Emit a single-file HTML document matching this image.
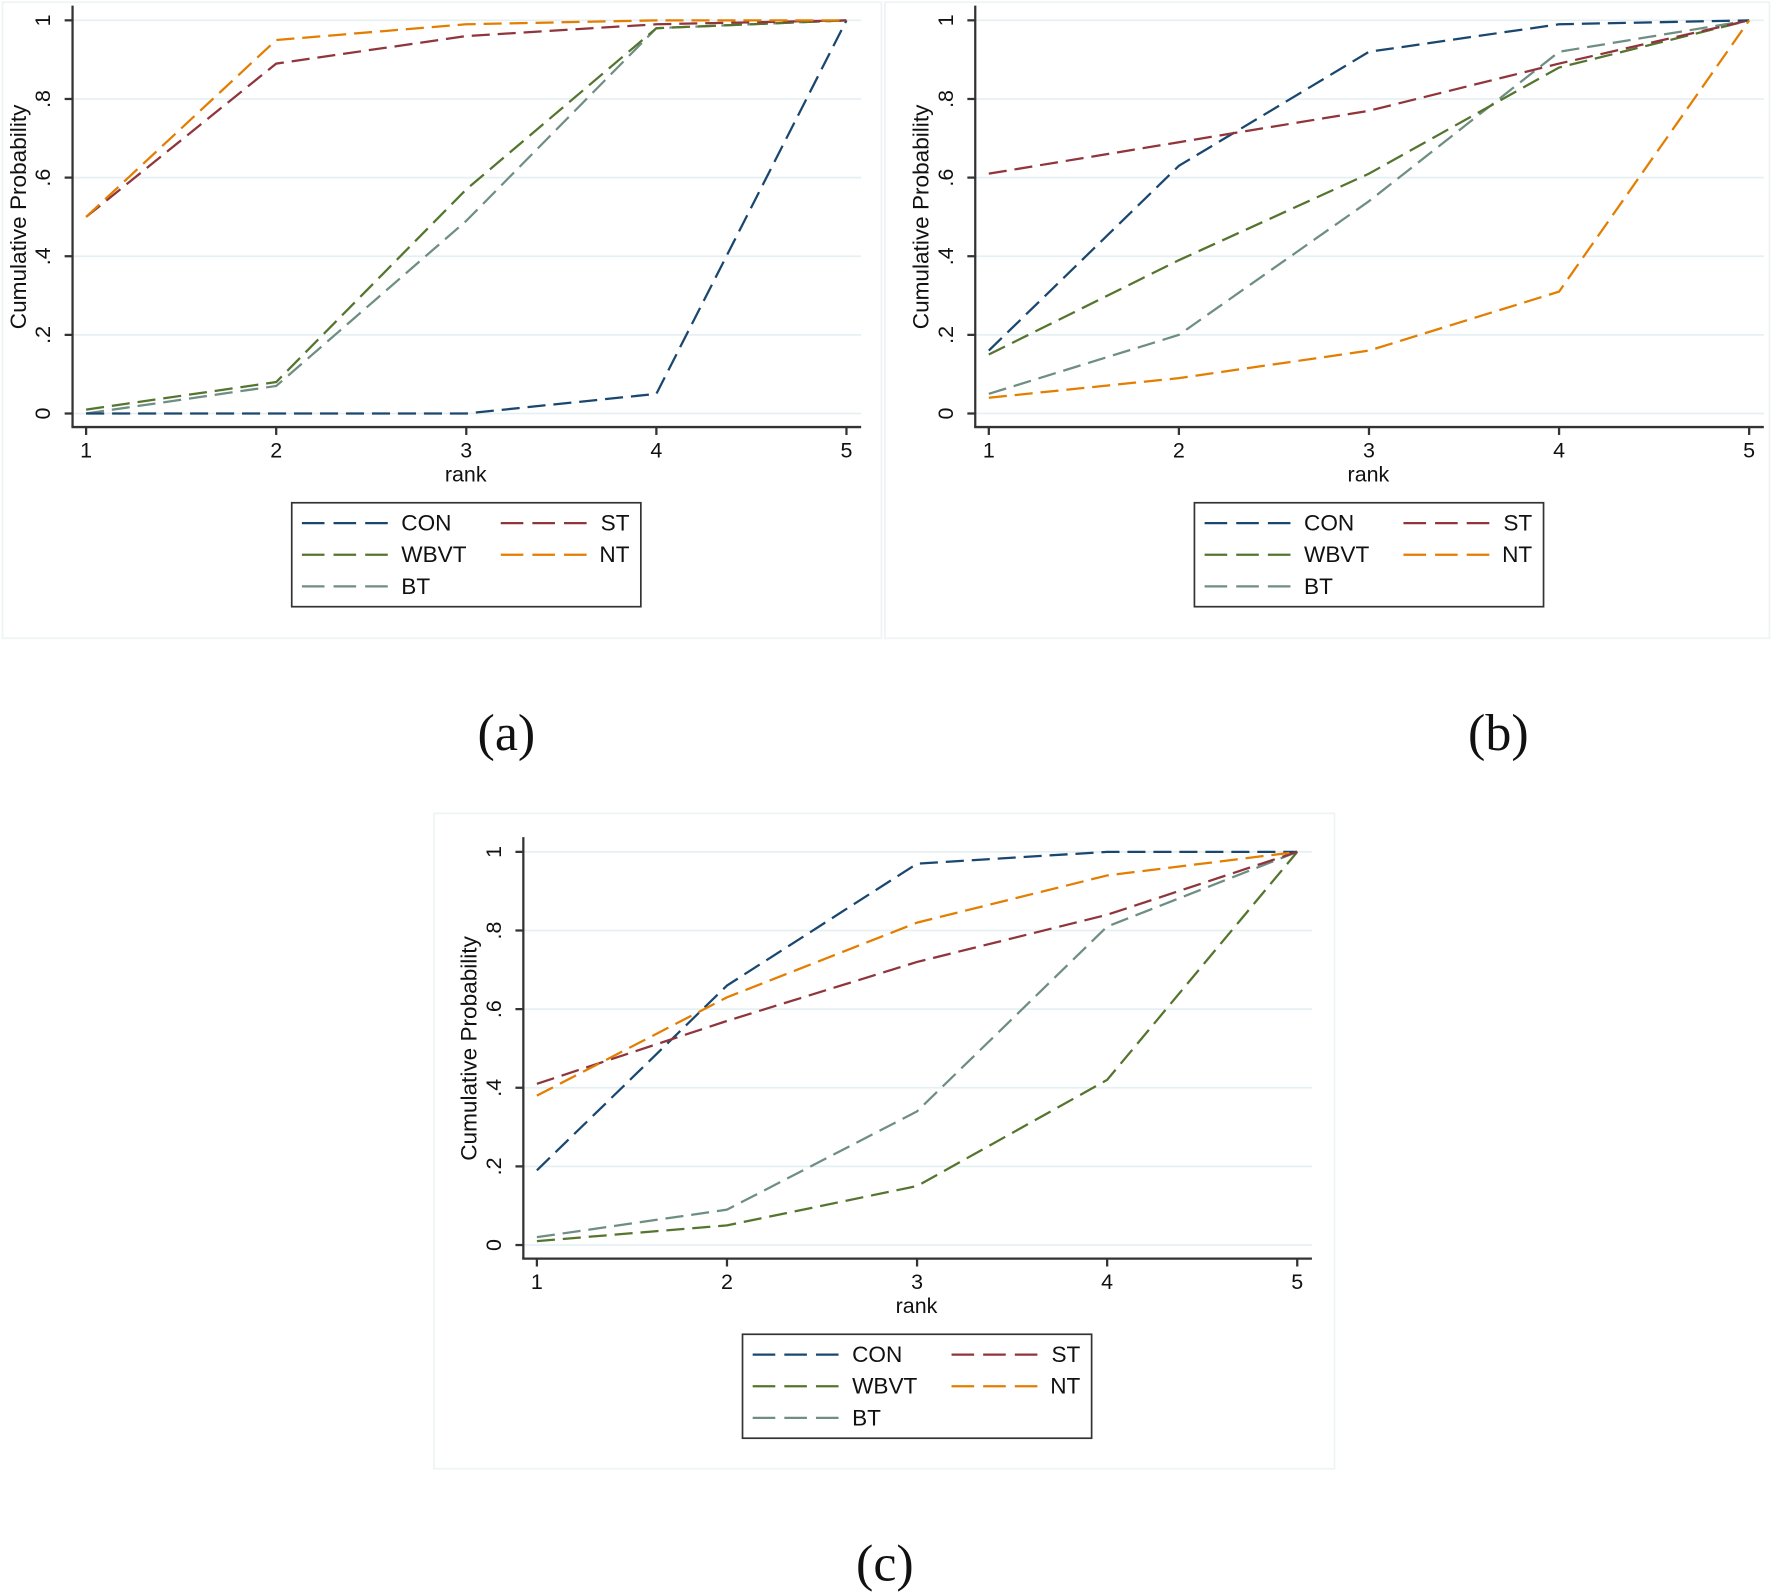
<!DOCTYPE html>
<html><head><meta charset="utf-8"><style>
html,body{margin:0;padding:0;background:#fff;}
svg{display:block;}
text{font-family:"Liberation Sans",sans-serif;fill:#111;}
.cap{font-family:"Liberation Serif",serif;}
</style></head><body>
<svg id="s" width="1772" height="1593" viewBox="0 0 1568 1410" xmlns="http://www.w3.org/2000/svg">
<rect width="1568" height="1410" fill="#fff"/>
</svg>
<script>
const s=document.getElementById('s');
const NS='http://www.w3.org/2000/svg';
function el(t,a,txt){const e=document.createElementNS(NS,t);for(const k in a)e.setAttribute(k,a[k]);if(txt!==undefined)e.textContent=txt;s.appendChild(e);return e;}
const C={CON:'#1a476f',ST:'#90353b',WBVT:'#55752f',NT:'#e37e00',BT:'#6e8e84'};
function panel(dx,dy,data,frame){
  el('rect',{x:frame[0],y:frame[1],width:frame[2]-frame[0],height:frame[3]-frame[1],fill:'#fff',stroke:'#eef3f4','stroke-width':1.5});
  const X=r=>dx+76+(r-1)*168.25, Y=v=>dy+366-v*348;
  for(let i=0;i<=5;i++){const y=Y(i*0.2);el('line',{x1:dx+64,x2:dx+762,y1:y,y2:y,stroke:'#e6f0f2','stroke-width':1.5});}
  el('line',{x1:dx+64,x2:dx+64,y1:dy+5,y2:dy+378,stroke:'#333','stroke-width':2});
  el('line',{x1:dx+63,x2:dx+762,y1:dy+378,y2:dy+378,stroke:'#333','stroke-width':2});
  const lab=['0','.2','.4','.6','.8','1'];
  for(let i=0;i<=5;i++){const y=Y(i*0.2);el('line',{x1:dx+57,x2:dx+64,y1:y,y2:y,stroke:'#333','stroke-width':2});
    el('text',{x:dx+38,y:y,'font-size':19,'text-anchor':'middle','dominant-baseline':'central',transform:`rotate(-90 ${dx+38} ${y})`},lab[i]);}
  for(let r=1;r<=5;r++){const x=X(r);el('line',{x1:x,x2:x,y1:dy+378,y2:dy+385,stroke:'#333','stroke-width':2});
    el('text',{x:x,y:dy+405,'font-size':19,'text-anchor':'middle'},String(r));}
  el('text',{x:dx+412,y:dy+426,'font-size':19,'text-anchor':'middle'},'rank');
  el('text',{x:dx+16,y:dy+192,'font-size':20,'text-anchor':'middle','dominant-baseline':'central',transform:`rotate(-90 ${dx+16} ${dy+192})`},'Cumulative Probability');
  for(const k of ['BT','WBVT','CON','ST','NT']){
    const pts=data[k].map((v,i)=>X(i+1)+','+Y(v)).join(' ');
    el('polyline',{points:pts,fill:'none',stroke:C[k],'stroke-width':2,'stroke-dasharray':'16 7'});
  }
  el('rect',{x:dx+258,y:dy+445,width:309,height:92,fill:'#fff',stroke:'#333','stroke-width':1.5});
  const L=[['CON',0,0],['ST',1,0],['WBVT',0,1],['NT',1,1],['BT',0,2]];
  for(const [k,c,r] of L){const y=dy+463+r*28;
    const lx=dx+(c?443:267);
    el('line',{x1:lx,x2:lx+76,y1:y,y2:y,stroke:C[k],'stroke-width':2,'stroke-dasharray':'20 8'});
    if(c) el('text',{x:dx+557,y:y,'font-size':20,'text-anchor':'end','dominant-baseline':'central'},k);
    else el('text',{x:dx+355,y:y,'font-size':20,'dominant-baseline':'central'},k);
  }
}
panel(0,0,{CON:[0,0,0,.05,1],ST:[.5,.89,.96,.99,1],WBVT:[.01,.08,.57,.98,1],NT:[.5,.95,.99,1,1],BT:[0,.07,.49,.98,1]},[2,2,780,565]);
panel(799,0,{CON:[.16,.63,.92,.99,1],ST:[.61,.69,.77,.89,1],WBVT:[.15,.39,.61,.88,1],NT:[.04,.09,.16,.31,1],BT:[.05,.20,.54,.92,1]},[783,2,1566,565]);
panel(399,736,{CON:[.19,.66,.97,1,1],ST:[.41,.57,.72,.84,1],WBVT:[.01,.05,.15,.42,1],NT:[.38,.63,.82,.94,1],BT:[.02,.09,.34,.81,1]},[384,720,1181,1300]);
el('text',{x:448,y:664,'font-size':46,'text-anchor':'middle',class:'cap'},'(a)');
el('text',{x:1326,y:664,'font-size':46,'text-anchor':'middle',class:'cap'},'(b)');
el('text',{x:783,y:1399,'font-size':46,'text-anchor':'middle',class:'cap'},'(c)');
</script>
</body></html>
